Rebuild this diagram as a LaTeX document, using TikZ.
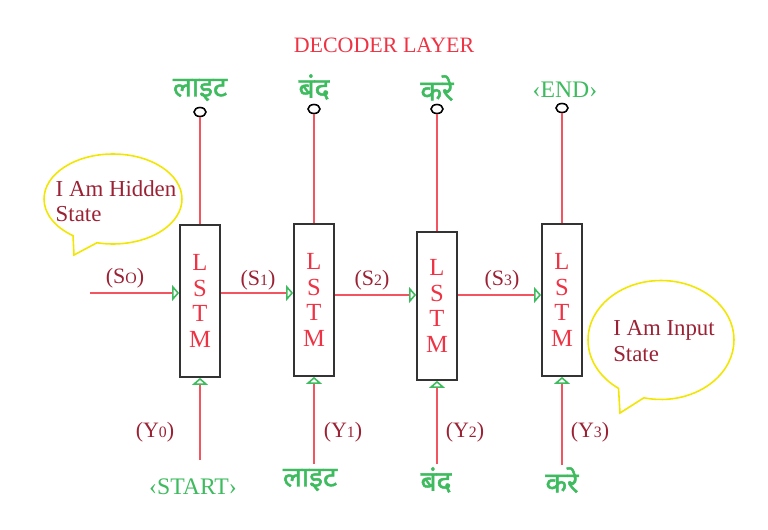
\documentclass[tikz,border=0pt]{standalone}
\usepackage{fontspec}
\setmainfont{Liberation Serif}
\newfontfamily\hindi[Script=Devanagari,FakeBold=1.6]{Noto Sans}
\usetikzlibrary{arrows.meta,shapes.geometric,shapes.callouts}
\definecolor{wire}{HTML}{F2555F}
\definecolor{lstmred}{HTML}{EE3344}
\definecolor{maroon}{HTML}{9B2235}
\definecolor{leaf}{HTML}{3DBB5E}
\definecolor{bubbleyel}{HTML}{F2E600}
\newcommand{\sub}[1]{{\fontsize{9}{9}\selectfont #1}}

\begin{document}
\begin{tikzpicture}[x=0.02cm,y=-0.02cm,
	lstm/.style={draw=black!80,line width=1pt,minimum width=0.8cm,inner sep=0pt,
		text=lstmred,align=center,font=\fontsize{14}{14.7}\selectfont},
	port/.style={draw=black,line width=0.9pt,ellipse,inner sep=0pt,minimum width=0.24cm,minimum height=0.18cm},
	wireline/.style={draw=wire,line width=0.9pt},
	flow/.style={wireline,-{Triangle[open,length=4pt,width=9pt,color=leaf]}},
	word/.style={text=leaf,font=\hindi\fontsize{16}{18}\selectfont},
	tag/.style={text=leaf,font=\fontsize{13.5}{15}\selectfont},
	state/.style={text=maroon,font=\fontsize{12.5}{14}\selectfont},
	bubble/.style={ellipse callout,draw=bubbleyel,line width=0.9pt,callout pointer arc=22,inner sep=0pt},
	note/.style={text=maroon,align=left,font=\fontsize{13}{14.5}\selectfont}]
	\useasboundingbox (0,0) rectangle (768,530);

	\node[text=lstmred,font=\fontsize{12.5}{14}\selectfont] (title) at (384,45) {DECODER LAYER};

	% lstm cells
	\node[lstm,minimum height=3.04cm] (b1) at (200,301) {L\\S\\T\\M};
	\node[lstm,minimum height=3.04cm] (b2) at (314,300) {L\\S\\T\\M};
	\node[lstm,minimum height=2.96cm] (b3) at (437,306) {L\\S\\T\\M};
	\node[lstm,minimum height=3.04cm] (b4) at (562,300) {L\\S\\T\\M};

	% outputs
	\node[port] (o1) at (200,112) {};
	\node[port] (o2) at (314,109) {};
	\node[port] (o3) at (437,109) {};
	\node[port] (o4) at (562,108) {};
	\draw[wireline] (b1.north) -- (o1.south);
	\draw[wireline] (b2.north) -- (o2.south);
	\draw[wireline] (b3.north) -- (o3.south);
	\draw[wireline] (b4.north) -- (o4.south);
	\node[word] (w1) at (200,90) {लाइट};
	\node[word] (w2) at (314,87) {बंद};
	\node[word] (w3) at (437,88) {करे};
	\node[tag] (w4) at (565,90) {‹END›};

	% hidden states
	\coordinate (s0) at (90,293);
	\draw[flow] (s0) -- (b1.west |- s0);
	\draw[flow] (b1.east |- 0,293) -- (b2.west |- 0,293);
	\draw[flow] (b2.east |- 0,295) -- (b3.west |- 0,295);
	\draw[flow] (b3.east |- 0,295) -- (b4.west |- 0,295);
	\node[state] (l0) at (125,278) {(S\sub{O})};
	\node[state] (l1) at (258,280) {(S\sub{1})};
	\node[state] (l2) at (372,280) {(S\sub{2})};
	\node[state] (l3) at (502,280) {(S\sub{3})};

	% inputs
	\coordinate (y0) at (200,460);
	\coordinate (y1) at (314,464);
	\coordinate (y2) at (437,464);
	\coordinate (y3) at (562,465);
	\draw[flow] (y0) -- (b1.south);
	\draw[flow] (y1) -- (b2.south);
	\draw[flow] (y2) -- (b3.south);
	\draw[flow] (y3) -- (b4.south);
	\node[state] (k0) at (155,432) {(Y\sub{0})};
	\node[state] (k1) at (343,432) {(Y\sub{1})};
	\node[state] (k2) at (465,432) {(Y\sub{2})};
	\node[state] (k3) at (590,432) {(Y\sub{3})};
	\node[tag] (i0) at (193,487) {‹START›};
	\node[word] (i1) at (310,480) {लाइट};
	\node[word] (i2) at (436,480) {बंद};
	\node[word] (i3) at (562,480) {करे};

	% notes
	\node[bubble,minimum width=2.76cm,minimum height=1.8cm,callout absolute pointer={(74,255)}]
		(hidden) at (113,199) {};
	\node[note] (hiddentxt) at (116,201) {I Am Hidden\\State};
	\node[bubble,minimum width=2.92cm,minimum height=2.38cm,callout absolute pointer={(620,413)}]
		(input) at (661,340) {};
	\node[note] (inputtxt) at (664,341) {I Am Input\\State};
\end{tikzpicture}
\end{document}
